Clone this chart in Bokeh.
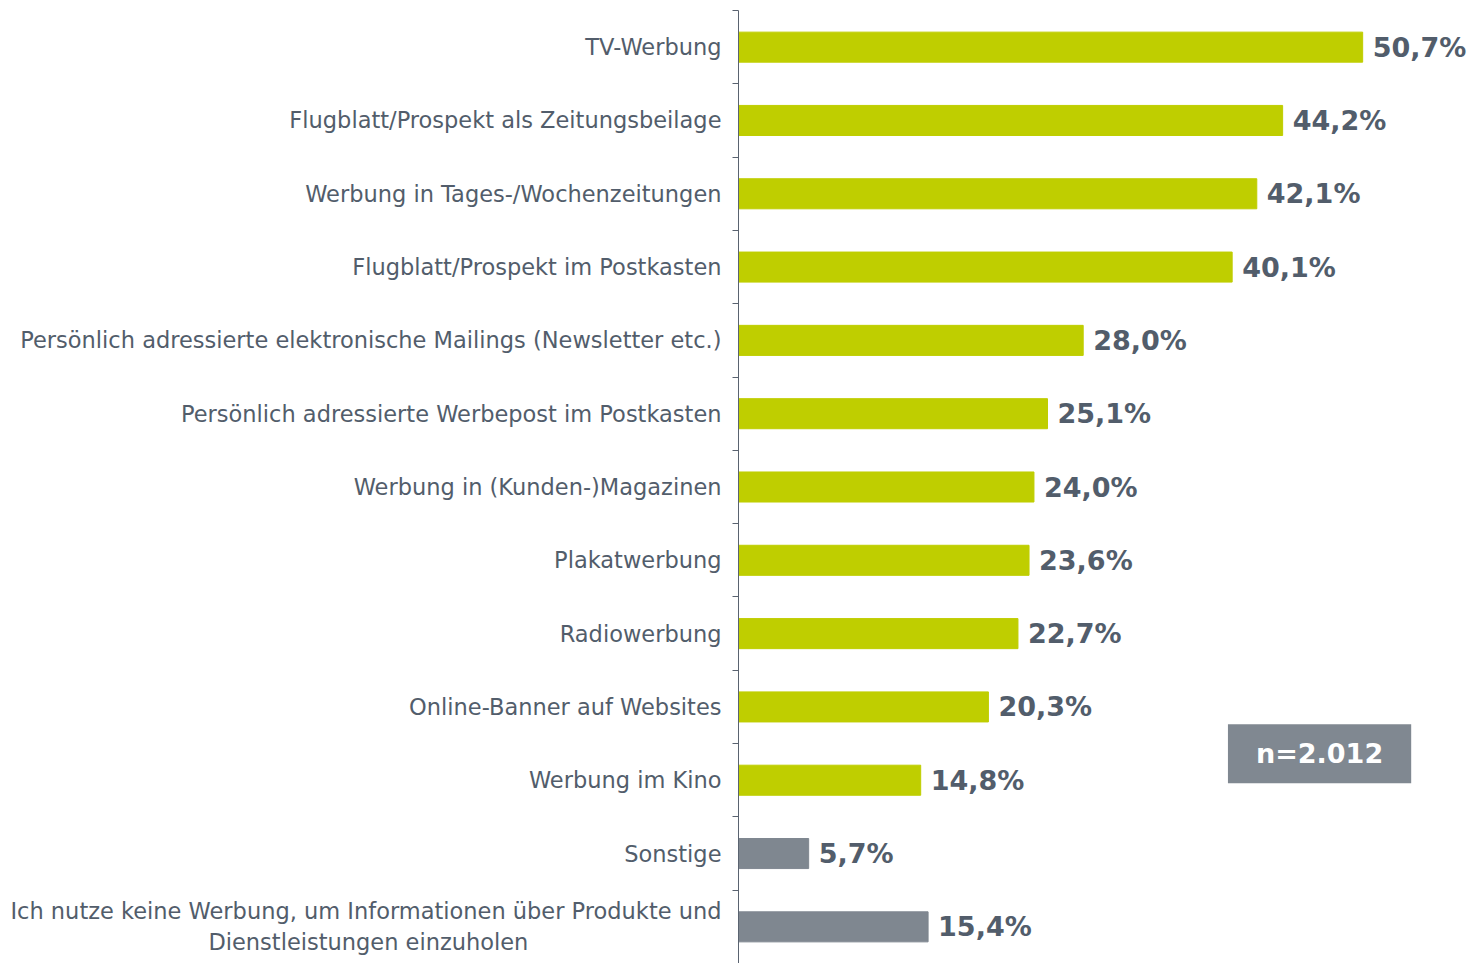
from bokeh.plotting import figure
from bokeh.models import Range1d, FixedTicker, ColumnDataSource, Label
from bokeh.core.properties import value
from bokeh.embed import file_html
from bokeh.resources import INLINE

categories = [
    "TV-Werbung",
    "Flugblatt/Prospekt als Zeitungsbeilage",
    "Werbung in Tages-/Wochenzeitungen",
    "Flugblatt/Prospekt im Postkasten",
    "Persönlich adressierte elektronische Mailings (Newsletter etc.)",
    "Persönlich adressierte Werbepost im Postkasten",
    "Werbung in (Kunden-)Magazinen",
    "Plakatwerbung",
    "Radiowerbung",
    "Online-Banner auf Websites",
    "Werbung im Kino",
    "Sonstige",
    "Ich nutze keine Werbung, um Informationen über Produkte und\nDienstleistungen einzuholen" + "\u00a0" * 27,
]
values = [50.7, 44.2, 42.1, 40.1, 28.0, 25.1, 24.0, 23.6, 22.7, 20.3, 14.8, 5.7, 15.4]
bar_colors = ["#bfce00"] * 11 + ["#7f8790"] * 2
sample_note = "n=2.012"

FONT = "DejaVu Sans"
TEXT_COLOR = "#525d6b"

n = len(categories)
centers = [i + 0.5 for i in range(n)]
labels = [f"{v:.1f}".replace(".", ",") + "%" for v in values]

src = ColumnDataSource(dict(y=centers, v=values, c=bar_colors, lab=labels))

p = figure(width=1470, height=963, output_backend="svg", toolbar_location=None,
           x_range=Range1d(0, 59.46), y_range=Range1d(n, 0),
           min_border_left=738, min_border_right=0, min_border_top=10, min_border_bottom=0)
p.outline_line_color = None
p.grid.grid_line_color = None
p.xaxis.visible = False

p.hbar(y="y", left=0, right="v", height=0.41, color="c", source=src)
p.text(x="v", y="y", text="lab", source=src, x_offset=10, text_baseline="middle",
       text_align="left", text_font=value(FONT), text_font_size="27px",
       text_font_style="bold", text_color=TEXT_COLOR)

ax = p.yaxis[0]
ax.ticker = FixedTicker(ticks=centers, minor_ticks=list(range(n + 1)))
ax.major_label_overrides = {c: lab for c, lab in zip(centers, categories)}
ax.major_tick_line_color = None
ax.major_tick_out = 0
ax.major_tick_in = 0
ax.minor_tick_out = 6
ax.minor_tick_in = 0
ax.minor_tick_line_color = "#5a6370"
ax.axis_line_color = "#5a6370"
ax.major_label_standoff = 11
ax.major_label_text_font = FONT
ax.major_label_text_font_size = "22.5px"
ax.major_label_text_color = TEXT_COLOR

p.add_layout(Label(x=47.2, y=10.14, text=sample_note, text_align="center",
                   text_baseline="middle", text_font=FONT, text_font_size="27px",
                   text_font_style="bold", text_color="white",
                   background_fill_color="#808891", padding=(28, 14)))

open("out.html", "w").write(file_html(p, INLINE))
